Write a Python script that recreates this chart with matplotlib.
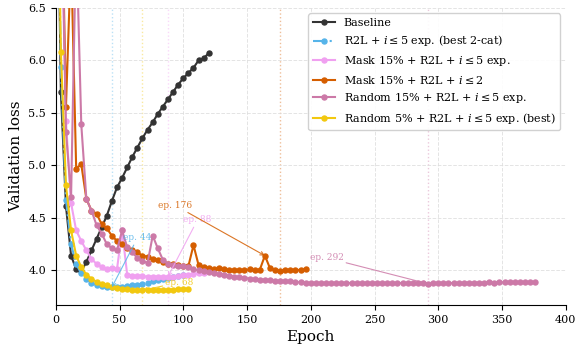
import numpy as np
import matplotlib
matplotlib.use("Agg")
import matplotlib.pyplot as plt

plt.rcParams["font.family"] = ["DejaVu Serif"]
plt.rcParams["mathtext.fontset"] = "dejavuserif"

EVAL_EVERY = 4  # validation every 4 epochs

baseline = [9.0, 5.70, 4.61, 4.14, 4.01, 3.99, 4.08, 4.19, 4.30, 4.41, 4.52,
            4.66, 4.79, 4.88, 4.98, 5.08, 5.17, 5.26, 5.34, 5.41, 5.49,
            5.56, 5.63, 5.70, 5.77, 5.83, 5.88, 5.93, 6.00, 6.02, 6.07]

r2l_exp = [9.0, 5.94, 4.67, 4.25, 4.06, 3.97, 3.92, 3.88, 3.86, 3.85, 3.845,
           3.84, 3.842, 3.845, 3.85, 3.86, 3.865, 3.87, 3.88, 3.90, 3.91,
           3.92, 3.93, 3.94, 3.95, 3.96]

mask15_exp = [10.0, 7.6, 5.42, 4.64, 4.38, 4.28, 4.19, 4.11, 4.06, 4.03, 4.01,
              4.02, 4.01, 4.38, 3.96, 3.95, 3.945, 3.945, 3.94, 3.94, 3.94,
              3.94, 3.935, 3.94, 3.95, 3.955, 3.96, 3.965, 3.97, 3.975]

mask15_i2 = [10.0, 8.0, 5.56, 7.0, 4.97, 5.01, 4.68, 4.57, 4.54, 4.44, 4.40,
             4.33, 4.28, 4.25, 4.21, 4.19, 4.17, 4.14, 4.13, 4.11, 4.10,
             4.08, 4.06, 4.06, 4.05, 4.04, 4.04, 4.24, 4.05, 4.03, 4.02,
             4.01, 4.02, 4.01, 4.00, 4.00, 4.00, 4.00, 4.01, 4.00, 4.005,
             4.14, 4.02, 4.00, 3.995, 4.00, 4.00, 4.00, 4.005, 4.01]

random15_exp = [10.0, 8.0, 5.32, 4.70, 7.2, 5.39, 4.68, 4.57, 4.43, 4.35, 4.25,
                4.21, 4.19, 4.38, 4.22, 4.17, 4.12, 4.09, 4.07, 4.33, 4.21,
                4.10, 4.06, 4.05, 4.04, 4.04, 4.03, 4.01, 4.00, 3.99, 3.98,
                3.97, 3.965, 3.96, 3.95, 3.94, 3.935, 3.93, 3.92, 3.915, 3.91,
                3.91, 3.905, 3.90, 3.90, 3.90, 3.895, 3.89, 3.885, 3.88, 3.88,
                3.88, 3.878, 3.88, 3.878, 3.88, 3.878, 3.878, 3.88, 3.878, 3.878,
                3.88, 3.878, 3.878, 3.88, 3.878, 3.878, 3.88, 3.878, 3.878, 3.878,
                3.875, 3.875, 3.872, 3.875, 3.878, 3.878, 3.88, 3.878, 3.88, 3.88,
                3.882, 3.88, 3.882, 3.882, 3.885, 3.882, 3.885, 3.885, 3.885, 3.885,
                3.885, 3.885, 3.885, 3.885]

random5_exp = [9.0, 6.08, 4.81, 4.38, 4.14, 4.03, 3.96, 3.92, 3.89, 3.87, 3.86,
               3.845, 3.835, 3.825, 3.82, 3.815, 3.812, 3.808, 3.812, 3.81, 3.812,
               3.812, 3.815, 3.815, 3.82, 3.82, 3.82]

series = [
    ("Baseline", baseline, "#333333", "-"),
    (r"R2L + $i \leq 5$ exp. (best 2-cat)", r2l_exp, "#56B4E9", "-."),
    (r"Mask 15% + R2L + $i \leq 5$ exp.", mask15_exp, "#F0A0F0", "-"),
    (r"Mask 15% + R2L + $i \leq 2$", mask15_i2, "#D55E00", "-"),
    (r"Random 15% + R2L + $i \leq 5$ exp.", random15_exp, "#CC79A7", "-"),
    (r"Random 5% + R2L + $i \leq 5$ exp. (best)", random5_exp, "#F2C80F", "-"),
]

# best epoch marks: (epoch, point the arrow goes to, text position, colour)
best_marks = [
    (44, (44, 3.84), (53, 4.31), "#56B4E9"),
    (68, (68, 3.81), (86, 3.885), "#F2C80F"),
    (88, (88, 3.94), (100, 4.48), "#F0A0F0"),
    (176, (164, 4.14), (80, 4.62), "#D55E00"),
    (292, (292, 3.872), (199, 4.12), "#CC79A7"),
]

fig = plt.figure(figsize=(5.75, 3.45), dpi=100)
ax = fig.add_axes([0.097, 0.116, 0.887, 0.861])

for label, vals, color, ls in series:
    epochs = np.arange(len(vals)) * EVAL_EVERY
    ax.plot(epochs, vals, ls, color=color, lw=1.5, marker="o", ms=3.6,
            label=label)

for ep, xy, xytext, color in best_marks:
    ax.axvline(ep, color=color, ls=":", lw=1.0, alpha=0.4, zorder=0)
    ax.annotate(f"ep. {ep}", xy=xy, xytext=xytext, color=color, alpha=0.85,
                fontsize=6.5, ha="left", va="center",
                arrowprops=dict(arrowstyle="->", color=color, lw=0.8,
                                alpha=0.85, shrinkA=0, shrinkB=0))

ax.set_xlim(0, 400)
ax.set_ylim(3.67, 6.5)
ax.set_xticks(np.arange(0, 401, 50))
ax.set_yticks([4.0, 4.5, 5.0, 5.5, 6.0, 6.5])
ax.tick_params(labelsize=8)
ax.grid(True, ls="--", lw=0.7, color="#dddddd", alpha=0.8)
ax.set_axisbelow(True)
for side in ("top", "right"):
    ax.spines[side].set_visible(False)

ax.set_xlabel("Epoch", fontsize=11)
ax.set_ylabel("Validation loss", fontsize=11)
ax.legend(loc="upper right", fontsize=8, framealpha=0.9)

fig.savefig("out.png", dpi=100)
